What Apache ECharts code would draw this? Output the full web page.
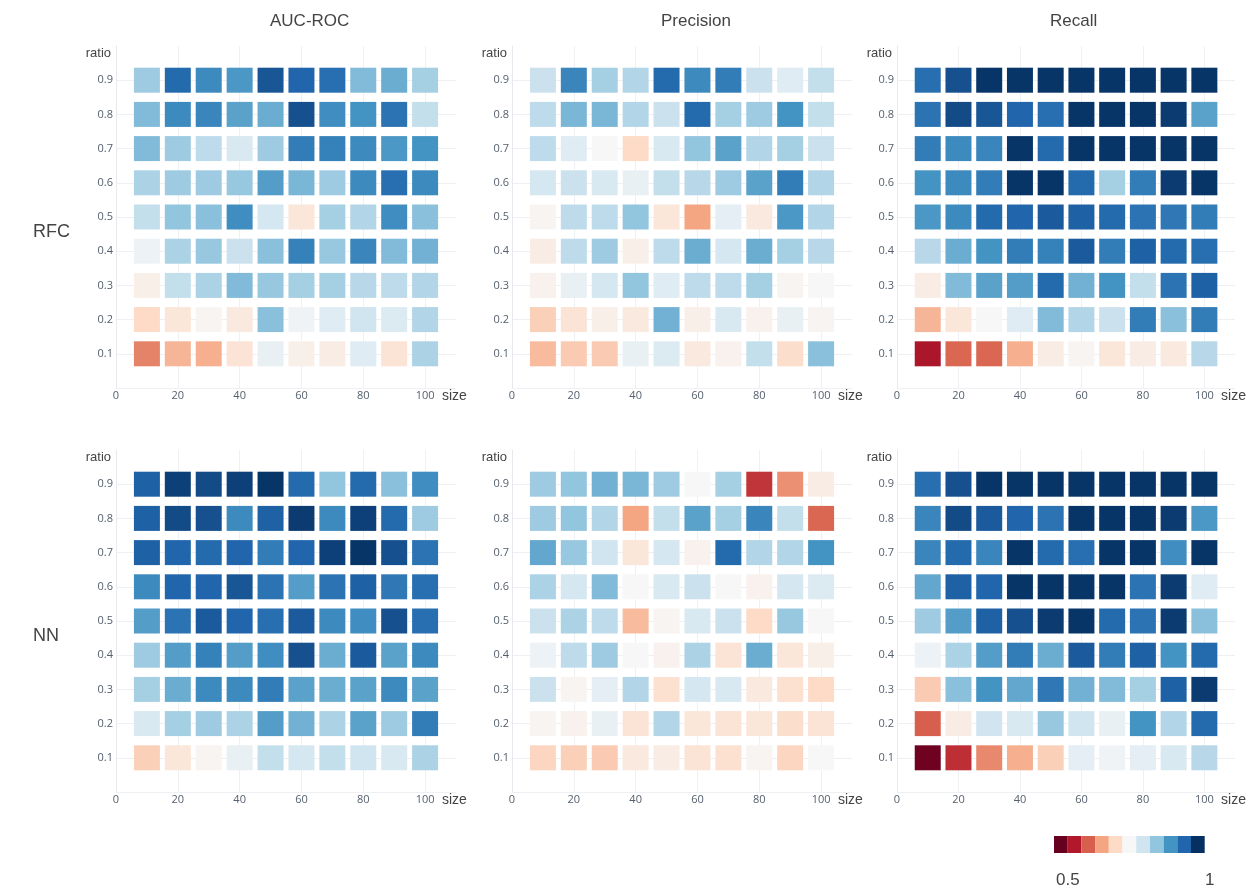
<!DOCTYPE html>
<html>
<head>
<meta charset="utf-8">
<script src="https://cdn.jsdelivr.net/npm/echarts@6/dist/echarts.min.js"></script>
<style>html,body{margin:0;padding:0;background:#fff}#c{width:1247px;height:888px}</style>
</head>
<body>
<div id="c"></div>
<script>
// x categories (size) and y categories (ratio, listed top row first)
const sizes = [10, 20, 30, 40, 50, 60, 70, 80, 90, 100];
const ratios = [0.9, 0.8, 0.7, 0.6, 0.5, 0.4, 0.3, 0.2, 0.1];
const metrics = ['AUC-ROC', 'Precision', 'Recall'];
const models = ['RFC', 'NN'];
const colorTicks = ['0.5', '1'];
const rdbu = ['#67001f','#b2182b','#d6604d','#f4a582','#fddbc7','#f7f7f7','#d1e5f0','#92c5de','#4393c3','#2166ac','#053061'];

// values, rows = ratio 0.9 ... 0.1, columns = size 10 ... 100
const rfcAuc = [
  [0.84, 0.945, 0.91, 0.895, 0.965, 0.95, 0.94, 0.86, 0.875, 0.835],
  [0.86, 0.91, 0.915, 0.885, 0.875, 0.97, 0.905, 0.9, 0.935, 0.81],
  [0.86, 0.84, 0.815, 0.79, 0.84, 0.925, 0.92, 0.91, 0.895, 0.9],
  [0.83, 0.84, 0.84, 0.845, 0.89, 0.865, 0.84, 0.91, 0.94, 0.91],
  [0.81, 0.85, 0.855, 0.905, 0.795, 0.72, 0.835, 0.825, 0.905, 0.855],
  [0.765, 0.83, 0.845, 0.805, 0.855, 0.92, 0.845, 0.915, 0.86, 0.87],
  [0.735, 0.81, 0.83, 0.86, 0.845, 0.835, 0.835, 0.82, 0.815, 0.825],
  [0.70, 0.72, 0.745, 0.725, 0.855, 0.76, 0.78, 0.80, 0.785, 0.825],
  [0.625, 0.665, 0.66, 0.715, 0.77, 0.735, 0.73, 0.78, 0.715, 0.83]
];
const rfcPrecision = [
  [0.805, 0.915, 0.835, 0.825, 0.945, 0.91, 0.925, 0.805, 0.78, 0.81],
  [0.815, 0.865, 0.865, 0.825, 0.805, 0.945, 0.835, 0.84, 0.9, 0.81],
  [0.815, 0.78, 0.75, 0.70, 0.79, 0.85, 0.885, 0.825, 0.835, 0.805],
  [0.795, 0.805, 0.79, 0.77, 0.81, 0.82, 0.84, 0.885, 0.925, 0.825],
  [0.745, 0.815, 0.815, 0.85, 0.72, 0.65, 0.775, 0.725, 0.895, 0.825],
  [0.73, 0.815, 0.84, 0.735, 0.815, 0.875, 0.795, 0.875, 0.835, 0.82],
  [0.74, 0.77, 0.795, 0.85, 0.78, 0.815, 0.815, 0.835, 0.745, 0.75],
  [0.69, 0.715, 0.735, 0.725, 0.87, 0.735, 0.79, 0.74, 0.77, 0.745],
  [0.67, 0.685, 0.685, 0.77, 0.785, 0.725, 0.74, 0.81, 0.705, 0.855]
];
const rfcRecall = [
  [0.94, 0.97, 0.995, 0.995, 0.995, 0.995, 0.995, 0.995, 0.995, 0.995],
  [0.935, 0.975, 0.965, 0.95, 0.94, 0.995, 0.995, 0.995, 0.99, 0.885],
  [0.925, 0.91, 0.915, 0.995, 0.945, 0.995, 0.995, 0.995, 0.995, 0.995],
  [0.9, 0.91, 0.925, 0.995, 0.995, 0.945, 0.835, 0.925, 0.99, 0.995],
  [0.895, 0.91, 0.945, 0.95, 0.96, 0.955, 0.945, 0.935, 0.93, 0.925],
  [0.82, 0.875, 0.9, 0.925, 0.92, 0.96, 0.925, 0.955, 0.945, 0.94],
  [0.73, 0.86, 0.885, 0.89, 0.945, 0.87, 0.9, 0.81, 0.935, 0.955],
  [0.665, 0.72, 0.75, 0.78, 0.86, 0.825, 0.805, 0.925, 0.855, 0.925],
  [0.545, 0.605, 0.605, 0.66, 0.73, 0.745, 0.72, 0.73, 0.725, 0.82]
];
const nnAuc = [
  [0.955, 0.985, 0.975, 0.985, 0.995, 0.945, 0.85, 0.945, 0.855, 0.905],
  [0.955, 0.975, 0.97, 0.91, 0.955, 0.99, 0.91, 0.985, 0.945, 0.84],
  [0.955, 0.95, 0.945, 0.95, 0.925, 0.95, 0.985, 0.995, 0.97, 0.935],
  [0.91, 0.95, 0.95, 0.965, 0.935, 0.89, 0.935, 0.955, 0.93, 0.94],
  [0.89, 0.935, 0.96, 0.95, 0.94, 0.96, 0.91, 0.905, 0.97, 0.94],
  [0.84, 0.89, 0.92, 0.89, 0.905, 0.97, 0.875, 0.96, 0.885, 0.91],
  [0.835, 0.875, 0.91, 0.91, 0.925, 0.885, 0.875, 0.885, 0.91, 0.885],
  [0.79, 0.835, 0.84, 0.83, 0.89, 0.87, 0.83, 0.885, 0.84, 0.925],
  [0.69, 0.72, 0.745, 0.77, 0.81, 0.795, 0.81, 0.80, 0.79, 0.83]
];
const nnPrecision = [
  [0.84, 0.85, 0.87, 0.865, 0.84, 0.75, 0.835, 0.57, 0.635, 0.73],
  [0.84, 0.85, 0.825, 0.65, 0.81, 0.885, 0.835, 0.915, 0.81, 0.605],
  [0.88, 0.845, 0.80, 0.72, 0.795, 0.74, 0.945, 0.825, 0.825, 0.9],
  [0.83, 0.795, 0.86, 0.75, 0.79, 0.805, 0.75, 0.74, 0.795, 0.785],
  [0.805, 0.83, 0.815, 0.67, 0.745, 0.79, 0.805, 0.70, 0.845, 0.75],
  [0.765, 0.815, 0.84, 0.75, 0.74, 0.83, 0.715, 0.875, 0.72, 0.735],
  [0.805, 0.745, 0.775, 0.825, 0.71, 0.795, 0.79, 0.725, 0.71, 0.70],
  [0.745, 0.74, 0.77, 0.715, 0.825, 0.72, 0.715, 0.72, 0.705, 0.715],
  [0.695, 0.69, 0.685, 0.725, 0.73, 0.715, 0.71, 0.745, 0.695, 0.75]
];
const nnRecall = [
  [0.94, 0.97, 0.995, 0.995, 0.995, 0.995, 0.995, 0.995, 0.995, 0.995],
  [0.915, 0.975, 0.96, 0.95, 0.935, 0.995, 0.995, 0.995, 0.99, 0.895],
  [0.915, 0.945, 0.915, 0.995, 0.945, 0.94, 0.995, 0.995, 0.905, 0.995],
  [0.88, 0.955, 0.95, 0.995, 0.995, 0.995, 0.995, 0.935, 0.99, 0.78],
  [0.84, 0.89, 0.955, 0.97, 0.99, 0.995, 0.945, 0.935, 0.99, 0.855],
  [0.765, 0.83, 0.89, 0.925, 0.875, 0.96, 0.925, 0.955, 0.9, 0.945],
  [0.685, 0.855, 0.9, 0.88, 0.93, 0.87, 0.86, 0.835, 0.955, 0.99],
  [0.60, 0.73, 0.80, 0.79, 0.845, 0.80, 0.77, 0.9, 0.825, 0.945],
  [0.505, 0.565, 0.63, 0.66, 0.69, 0.775, 0.76, 0.775, 0.79, 0.82]
];

const panels = [rfcAuc, rfcPrecision, rfcRecall, nnAuc, nnPrecision, nnRecall];

const lefts = [116, 512, 897];
const tops = [46, 450];
const gridW = 340, gridH = 342;
const tickFont = 'Open Sans';
const textColor = '#444';

const grids = [], xAxes = [], yAxes = [], series = [];
panels.forEach((m, i) => {
  const col = i % 3, row = Math.floor(i / 3);
  grids.push({left: lefts[col], top: tops[row], width: gridW, height: gridH});
  xAxes.push({
    type: 'value', gridIndex: i, min: 0, max: 110, interval: 20,
    name: 'size', nameLocation: 'end', nameGap: -14,
    nameTextStyle: {color: textColor, fontSize: 14, fontFamily: 'Liberation Sans', align: 'left', verticalAlign: 'top', padding: [1, 0, 0, 0]},
    axisLine: {show: false}, axisTick: {show: false},
    axisLabel: {color: '#55606e', fontSize: 11, fontFamily: tickFont, margin: 2, showMaxLabel: false},
    splitLine: {show: true, showMaxLine: false, lineStyle: {color: '#eef0f3', width: 1}}
  });
  yAxes.push({
    type: 'value', gridIndex: i, min: 0, max: 1, interval: 0.1,
    name: 'ratio', nameLocation: 'end', nameGap: -7,
    nameTextStyle: {color: textColor, fontSize: 13, fontFamily: 'Liberation Sans', align: 'right', verticalAlign: 'middle', padding: [0, 5, 0, 0]},
    axisLine: {show: true, lineStyle: {color: '#e6e9ed'}}, axisTick: {show: false},
    axisLabel: {color: '#55606e', fontSize: 11, fontFamily: tickFont, margin: 3,
      formatter: v => (v > 0.05 && v < 0.95) ? v.toFixed(1) : ''},
    splitLine: {show: true, showMaxLine: false, lineStyle: {color: '#eef0f3', width: 1}}
  });
  const data = [];
  m.forEach((r, ri) => r.forEach((v, ci) => data.push([sizes[ci], ratios[ri], v])));
  series.push({
    type: 'scatter', xAxisIndex: i, yAxisIndex: i, symbol: 'rect', symbolSize: [26, 25],
    itemStyle: {opacity: 1}, emphasis: {disabled: true}, data: data
  });
});
// empty series used only by the colour-bar legend
series.push({type: 'scatter', xAxisIndex: 0, yAxisIndex: 0, data: [], silent: true});

const titleTexts = [];
const titleX = [270, 661, 1050];
metrics.forEach((t, k) => titleTexts.push({
  type: 'text', left: titleX[k], top: 13, style: {text: t, fill: textColor, font: '17px "Liberation Sans"', textAlign: 'center'}
}));
const rowY = [223, 627];
models.forEach((t, k) => titleTexts.push({
  type: 'text', left: 33, top: rowY[k], style: {text: t, fill: textColor, font: '18px "Liberation Sans"', textAlign: 'center'}
}));
titleTexts.push({type: 'text', left: 1056, top: 872, style: {text: colorTicks[0], fill: textColor, font: '17px "Liberation Sans"', textAlign: 'center'}});
titleTexts.push({type: 'text', left: 1205, top: 872, style: {text: colorTicks[1], fill: textColor, font: '17px "Liberation Sans"', textAlign: 'center'}});

const pieces = rdbu.map((c, k) => ({min: 0.5 + k * 0.5 / 11, max: 0.5 + (k + 1) * 0.5 / 11, color: c}));

const chart = echarts.init(document.getElementById('c'), null, {renderer: 'canvas'});
chart.setOption({
  backgroundColor: '#ffffff',
  animation: false,
  grid: grids, xAxis: xAxes, yAxis: yAxes,
  visualMap: [
    {type: 'continuous', show: false, min: 0.5, max: 1, dimension: 2, seriesIndex: [0,1,2,3,4,5], inRange: {color: rdbu}},
    {type: 'piecewise', show: true, orient: 'horizontal', left: 1049, top: 831, padding: 5,
     itemWidth: 13.7, itemHeight: 17, itemGap: 0, itemSymbol: 'rect', showLabel: false, selectedMode: false,
     pieces: pieces, seriesIndex: 6, dimension: 2}
  ],
  graphic: titleTexts,
  series: series
});
</script>
</body>
</html>
